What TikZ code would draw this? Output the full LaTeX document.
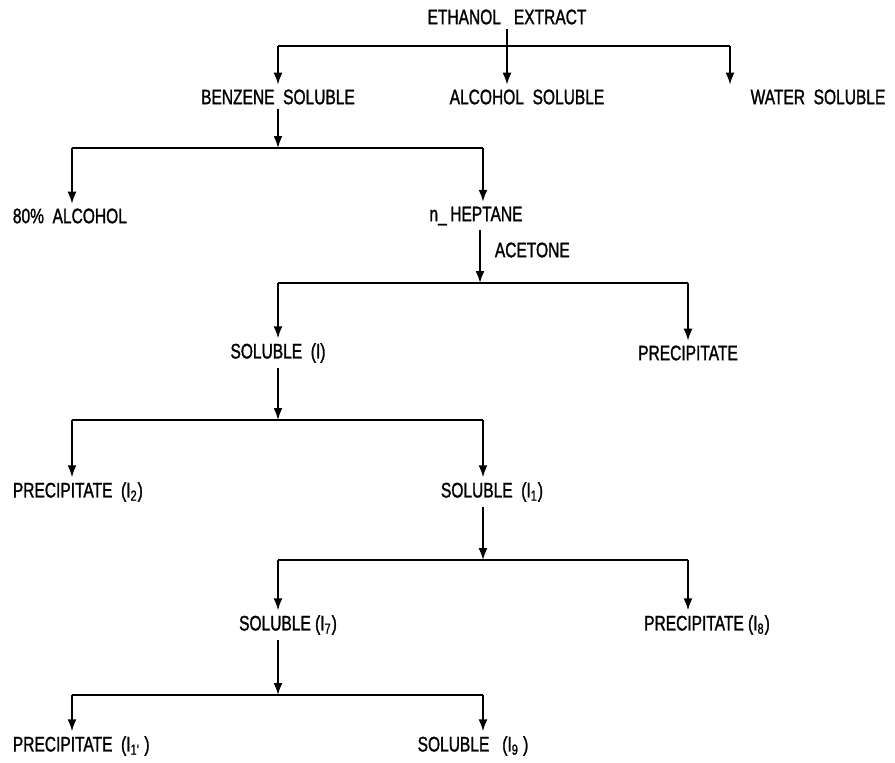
\documentclass[tikz,border=0pt]{standalone}
\usepackage{fontspec}
\setmainfont{Liberation Sans}[FakeStretch=0.74, FakeBold=1.3]
\usetikzlibrary{arrows.meta}
\begin{document}
\begin{tikzpicture}[>={Latex[length=6pt,width=4.5pt]}, x=0.5pt, y=-0.5pt, line width=0.9pt,
    every node/.style={font=\fontsize{10.5}{12}\selectfont, inner sep=2pt}]
    \useasboundingbox (0,0) rectangle (895,762);
    % level 0
    \node (ext) at (507,17) {ETHANOL\ \ \ EXTRACT};
    \node (benz) at (278,97) {BENZENE\ \ SOLUBLE};
    \node (alc) at (527,97) {ALCOHOL\ \ SOLUBLE};
    \node (wat) at (818,97) {WATER\ \ SOLUBLE};
    \coordinate (a1) at (278,46);
    \coordinate (a2) at (507,46);
    \coordinate (a3) at (730,46);
    \draw[->] (ext) -- (a2 |- alc.north);
    \draw (a1) -- (a3);
    \draw[->] (a1) -- (benz);
    \draw[->] (a3) -- (a3 |- wat.north);
    % benzene
    \node[anchor=west] (eighty) at (8,216) {80\%\ \ ALCOHOL};
    \node (hep) at (476,216) {n\_\,HEPTANE};
    \node[anchor=west] (ace) at (490,250) {ACETONE};
    \coordinate (b0) at (278,148);
    \coordinate (b1) at (72,148);
    \coordinate (b2) at (483,148);
    \draw[->] (benz) -- (b0);
    \draw (b1) -- (b2);
    \draw[->] (b1) -- (b1 |- eighty.north);
    \draw[->] (b2) -- (b2 |- hep.north);
    % heptane / acetone
    \node (solI) at (278,353) {SOLUBLE\ \ (I)};
    \node (pre) at (688,353) {PRECIPITATE};
    \coordinate (c0) at (480,283);
    \coordinate (c1) at (278,283);
    \coordinate (c2) at (688,283);
    \draw[->] (c0 |- hep.south) -- (c0);
    \draw (c1) -- (c2);
    \draw[->] (c1) -- (solI);
    \draw[->] (c2) -- (pre);
    % soluble (I)
    \node[anchor=west] (preItwo) at (8,492) {PRECIPITATE\ \ (I\textsubscript{2})};
    \node (solIone) at (492,492) {SOLUBLE\ \ (I\textsubscript{1})};
    \coordinate (d0) at (278,420);
    \coordinate (d1) at (72,420);
    \coordinate (d2) at (483,420);
    \draw[->] (solI) -- (d0);
    \draw (d1) -- (d2);
    \draw[->] (d1) -- (d1 |- preItwo.north);
    \draw[->] (d2) -- (d2 |- solIone.north);
    % soluble (I1)
    \node (solIseven) at (288,625) {SOLUBLE (I\textsubscript{7})};
    \node (preIeight) at (707,625) {PRECIPITATE (I\textsubscript{8})};
    \coordinate (e0) at (483,560);
    \coordinate (e1) at (278,560);
    \coordinate (e2) at (688,560);
    \draw[->] (e0 |- solIone.south) -- (e0);
    \draw (e1) -- (e2);
    \draw[->] (e1) -- (e1 |- solIseven.north);
    \draw[->] (e2) -- (e2 |- preIeight.north);
    % soluble (I7)
    \node[anchor=west] (preIten) at (8,746) {PRECIPITATE\ \ (I\textsubscript{1'}\ )};
    \node (solInine) at (473,746) {SOLUBLE\ \ \ (I\textsubscript{9}\ )};
    \coordinate (f0) at (278,695);
    \coordinate (f1) at (72,695);
    \coordinate (f2) at (483,695);
    \draw[->] (solIseven.south -| f0) -- (f0);
    \draw (f1) -- (f2);
    \draw[->] (f1) -- (f1 |- preIten.north);
    \draw[->] (f2) -- (f2 |- solInine.north);
\end{tikzpicture}
\end{document}
